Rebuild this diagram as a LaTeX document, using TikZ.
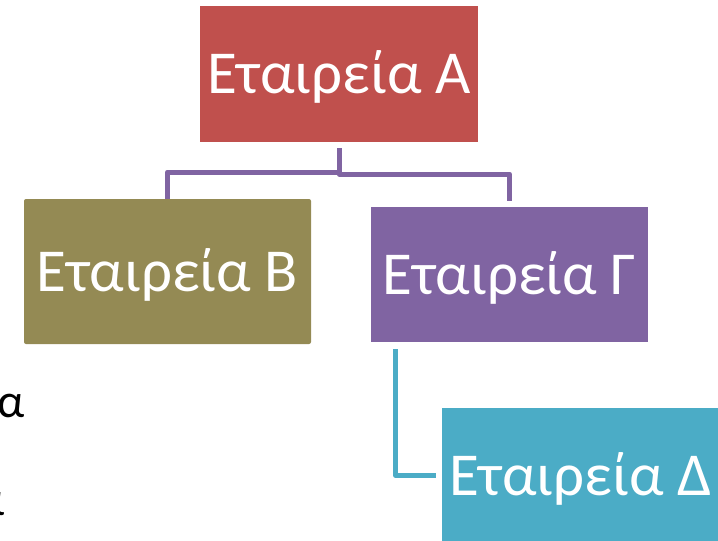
\documentclass[tikz,border=0pt]{standalone}
\usepackage{fontspec}
\setmainfont{Carlito}
\definecolor{cA}{HTML}{C0504D}
\definecolor{cB}{HTML}{948A54}
\definecolor{cG}{HTML}{8064A2}
\definecolor{cD}{HTML}{4BACC6}
\newcommand{\bigfont}{\fontsize{61}{70}\selectfont}
\newcommand{\smallfont}{\fontsize{48}{56}\selectfont}
\begin{document}
\begin{tikzpicture}[x=1pt,y=-1pt,
  box/.style={minimum width=277pt, minimum height=135pt, inner sep=0pt,
    text=white, font=\bigfont, text height=39pt, text depth=0pt},
  conn/.style={line width=5pt, line join=round},
  frag/.style={inner sep=0pt, font=\smallfont, text=black}]
\useasboundingbox (0,0) rectangle (718,541);
\node[box, fill=cA, minimum width=278pt, minimum height=136pt] (A) at (339,74) {Εταιρεία Α};
\node[box, fill=cB, minimum width=287pt, minimum height=145pt, rounded corners=2pt] (B) at (167.5,271.5) {Εταιρεία Β};
\node[box, fill=cG] (G) at (509.5,274.5) {Εταιρεία Γ};
\node[box, fill=cD] (D) at (580.5,475.5) {Εταιρεία Δ};
\coordinate (j) at (339,172);
\draw[conn, cG] ([yshift=-6pt]A.south) -- (j) -| (B.north);
\draw[conn, cG] (j) -- ([yshift=-2pt]j) -| ([yshift=6pt]G.north);
\draw[conn, cD] ([xshift=25pt,yshift=-7pt]G.south west) |- ([xshift=-6pt]D.west);
\node[frag, anchor=base east] (f1) at (25,417) {ία};
\node[frag, anchor=base east] (f2) at (5,515) {α};
\end{tikzpicture}
\end{document}
